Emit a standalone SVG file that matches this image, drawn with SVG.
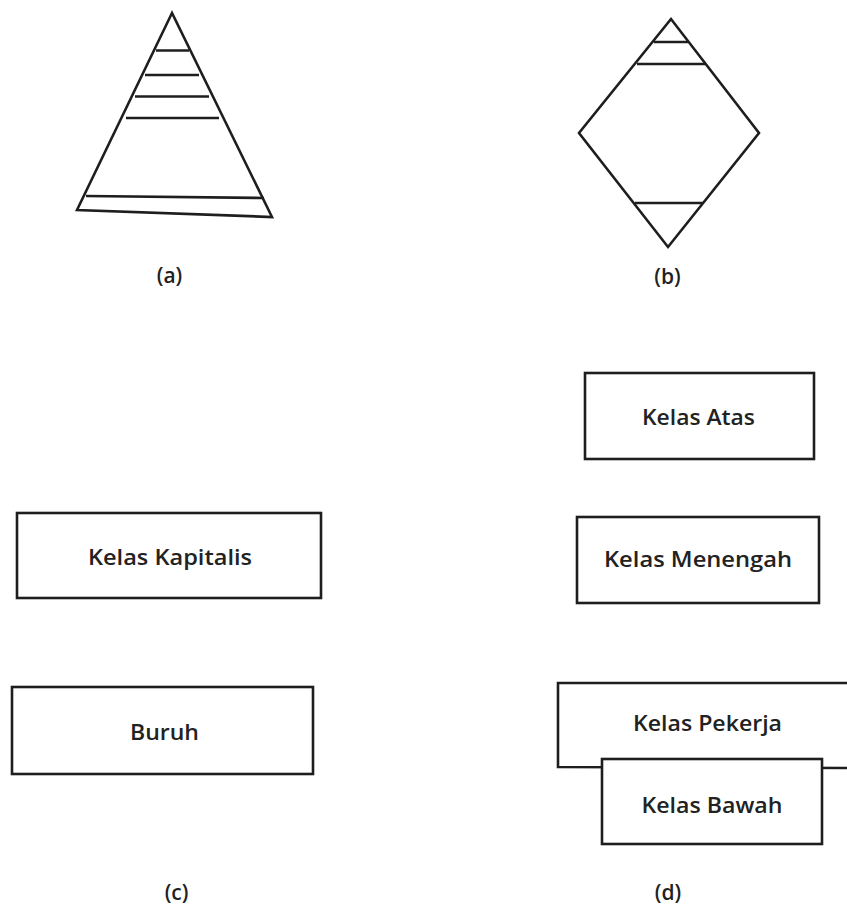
<svg xmlns="http://www.w3.org/2000/svg" width="847" height="911" viewBox="0 0 847 911">
<style>
.s{fill:none;stroke:#1e1e1e;stroke-width:2.6;stroke-linejoin:miter}
.b{fill:#fff;stroke:#1e1e1e;stroke-width:2.6}
.t{font-family:"Open Sans","Liberation Sans",sans-serif;font-size:22px;font-weight:600;fill:#222;text-anchor:middle}
.l{font-family:"Open Sans","Liberation Sans",sans-serif;font-size:21px;font-weight:600;fill:#222;text-anchor:middle}
</style>
<rect width="847" height="911" fill="#fff"/>
<g id="pyramid-a">
<polygon class="s" points="172,13 77,210 272,217"/>
<line class="s" x1="156" y1="50.5" x2="189" y2="50.5"/>
<line class="s" x1="145" y1="75" x2="199" y2="75"/>
<line class="s" x1="135" y1="96.5" x2="209" y2="96.5"/>
<line class="s" x1="126" y1="118" x2="219" y2="118"/>
<line class="s" x1="86" y1="196" x2="264" y2="198"/>
<text class="l" x="169.5" y="283">(a)</text>
</g>
<g id="diamond-b">
<polygon class="s" points="671,19 579,133 668,247 759,133"/>
<line class="s" x1="654" y1="42" x2="688" y2="42"/>
<line class="s" x1="637" y1="64" x2="706" y2="64"/>
<line class="s" x1="635" y1="203" x2="703" y2="203"/>
<text class="l" x="667.5" y="284">(b)</text>
</g>
<g id="box-kapitalis">
<rect class="b" x="17" y="513" width="304" height="85"/>
<text class="t" x="170" y="565" textLength="164" lengthAdjust="spacingAndGlyphs">Kelas Kapitalis</text>
</g>
<g id="box-buruh">
<rect class="b" x="12" y="687" width="301" height="87"/>
<text class="t" x="164.5" y="740" textLength="69" lengthAdjust="spacingAndGlyphs">Buruh</text>
</g>
<text class="l" x="176.5" y="900">(c)</text>
<g id="box-atas">
<rect class="b" x="585" y="373" width="229" height="86"/>
<text class="t" x="698.5" y="425" textLength="113" lengthAdjust="spacingAndGlyphs">Kelas Atas</text>
</g>
<g id="box-menengah">
<rect class="b" x="577" y="517" width="242" height="86"/>
<text class="t" x="698" y="567" textLength="188" lengthAdjust="spacingAndGlyphs">Kelas Menengah</text>
</g>
<g id="box-pekerja">
<polyline class="s" points="850,683 558,683 558,767 850,768"/>
<text class="t" x="707.5" y="731" textLength="149" lengthAdjust="spacingAndGlyphs">Kelas Pekerja</text>
</g>
<g id="box-bawah">
<rect class="b" x="602" y="759" width="220" height="85"/>
<text class="t" x="712" y="813" textLength="141" lengthAdjust="spacingAndGlyphs">Kelas Bawah</text>
</g>
<text class="l" x="668" y="900">(d)</text>
<g id="connectors"></g>
</svg>
